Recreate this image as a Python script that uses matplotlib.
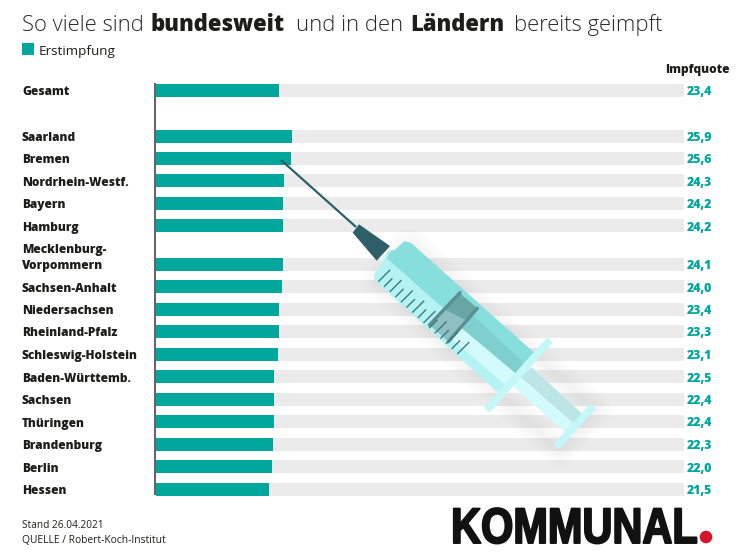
import numpy as np
import matplotlib
matplotlib.use('Agg')
import matplotlib.pyplot as plt
import matplotlib.patheffects as pe
from matplotlib.patches import Polygon, Rectangle, Circle
from matplotlib.transforms import Affine2D

# Impfquote Erstimpfung, 26.04.2021
laender = ['Gesamt', 'Saarland', 'Bremen', 'Nordrhein-Westf.', 'Bayern', 'Hamburg',
           'Mecklenburg-\nVorpommern', 'Sachsen-Anhalt', 'Niedersachsen', 'Rheinland-Pfalz',
           'Schleswig-Holstein', 'Baden-Württemb.', 'Sachsen', 'Thüringen', 'Brandenburg',
           'Berlin', 'Hessen']
quote = [23.4, 25.9, 25.6, 24.3, 24.2, 24.2, 24.1, 24.0, 23.4, 23.3, 23.1, 22.5, 22.4, 22.4, 22.3, 22.0, 21.5]

TEAL = '#00a79d'
GRAU = '#ebebeb'
W, H = 738, 558

# row layout in pixels (gap before Saarland and before Mecklenburg-Vorpommern)
schritte = [0, 46] + [22.45] * 4 + [38.2] + [22.5] * 10
y = 90 + np.cumsum(schritte)


class Schmal(pe.AbstractPathEffect):
    # squeeze text horizontally around a pixel column, for the logo
    def __init__(self, faktor, anker, breite):
        super().__init__()
        self.faktor, self.anker, self.breite = faktor, anker, breite

    def draw_path(self, renderer, gc, tpath, affine, rgbFace):
        t = affine + Affine2D().translate(-self.anker, 0).scale(self.faktor, 1).translate(self.anker, 0)
        gc0 = renderer.new_gc()
        gc0.copy_properties(gc)
        gc0.set_linewidth(self.breite)
        gc0.set_foreground(rgbFace)
        renderer.draw_path(gc0, tpath, t, rgbFace)
        gc0.restore()


fig = plt.figure(figsize=(W / 100, H / 100), dpi=100)
plt.rcParams['font.family'] = ['Open Sans', 'DejaVu Sans']

ax = fig.add_axes([155.5 / W, 0, (684 - 155.5) / W, 1])
ax.set_xlim(0, 100)
ax.set_ylim(H, 0)
ax.axis('off')
ax.barh(y, [100] * len(y), height=13, color=GRAU, zorder=1)
ax.barh(y, quote, height=13, color=TEAL, zorder=2)

# overlay in pixel coordinates for text and the syringe
ov = fig.add_axes([0, 0, 1, 1], facecolor='none')
ov.set_xlim(0, W)
ov.set_ylim(H, 0)
ov.axis('off')

ov.plot([155, 155], [83, 495], color='#666666', lw=1.5, solid_capstyle='butt', zorder=3)

for name, wert, yy in zip(laender, quote, y):
    ov.text(22, yy + 5, name, fontsize=8.6, fontweight='extra bold', color='#1d1d1b', va='baseline', linespacing=1.5)
    ov.text(687, yy + 5, f'{wert:.1f}'.replace('.', ','), fontsize=8.8, fontweight='extra bold', color=TEAL, va='baseline')

ov.text(665, 73, 'Impfquote', fontsize=8.6, fontweight='extra bold', color='#1d1d1b', va='baseline')

# title, mixed weights
titel = [(22, 'So viele sind', 'light'), (151, 'bundesweit', 'extra bold'), (296, 'und in den', 'light'),
         (410, 'Ländern', 'extra bold'), (514, 'bereits geimpft', 'light')]
for tx, t, gew in titel:
    ov.text(tx, 31, t, fontsize=15.8, fontweight=gew, color='#2a2a2a' if gew == 'light' else '#1d1d1b', va='baseline')

ov.add_patch(Rectangle((22, 43), 12, 12, color=TEAL, lw=0))
ov.text(39, 55, 'Erstimpfung', fontsize=9.7, color='#1d1d1b', va='baseline')

ov.text(22, 528, 'Stand 26.04.2021', fontsize=7.3, color='#1d1d1b', va='baseline')
ov.text(22, 543, 'QUELLE / Robert-Koch-Institut', fontsize=7.4, color='#1d1d1b', va='baseline')

# logo
ov.text(698, 543, 'KOMMUNAL', fontsize=36, family='Liberation Sans', fontweight='bold', color='#111111',
        ha='right', va='baseline', path_effects=[Schmal(0.83, 698, 1.4)])
ov.add_patch(Circle((706, 537), 6.3, color='#d5152b', lw=0))


# syringe (x3 crop at 340,210)
def z(pts):
    return np.array(pts) / 3 + [340, 210]


def poly(pts, farbe, zo=5, rand=0.0):
    ov.add_patch(Polygon(z(pts), closed=True, facecolor=farbe, edgecolor=farbe if rand else 'none', lw=rand,
                         joinstyle='round', zorder=zo))


umriss = [(102, 200), (190, 97), (212, 98), (580, 428), (760, 590), (648, 710), (475, 546)]
for b in np.linspace(24, 2, 12):
    ov.add_patch(Polygon(z(umriss) + [3, 4], closed=True, facecolor='none', edgecolor='black',
                         lw=b, alpha=0.005, joinstyle='round', zorder=4))

# needle and hub
ov.plot([281, 356], [160, 227], color='#2c5f68', lw=1.6, zorder=5, solid_capstyle='butt')
poly([(118, 148), (140, 130), (150, 145), (135, 163)], '#d3fbfd')
poly([(140, 130), (158, 118), (172, 132), (150, 145)], '#9fe4e3')
poly([(38, 68), (57, 43), (150, 108), (110, 152)], '#2c5f68', zo=6)

# barrel
poly([(138, 147), (194, 97), (212, 102), (580, 430), (555, 462), (369, 351)], '#87dfdd', rand=1.5)
poly([(104, 197), (138, 147), (369, 351), (530, 490), (477, 546), (106, 208)], '#b5f2f3', rand=1.5)
poly([(369, 351), (527, 490), (495, 525), (335, 385)], '#d3fbfd')
poly([(395, 312), (555, 462), (527, 490), (362, 352)], '#7fcfcf')

# plunger
poly([(540, 500), (575, 472), (725, 610), (700, 640)], '#bce6e6')
poly([(515, 525), (540, 500), (700, 640), (675, 665)], '#d3fbfd')
poly([(752, 584), (765, 597), (656, 716), (643, 703)], '#c4f7f8', rand=1.0)

# flange
poly([(622, 385), (635, 398), (448, 605), (435, 592)], '#c4f7f8', zo=6, rand=1.0)

# gasket
poly([(360, 250), (412, 295), (375, 330), (315, 300)], '#6aa5a5', zo=6)
poly([(315, 300), (375, 330), (325, 395), (268, 345)], '#8fbfc2', zo=6)
ov.plot(*z([(360, 248), (268, 345)]).T, color='#5a8f92', lw=2.4, zorder=7, solid_capstyle='round')
ov.plot(*z([(412, 295), (325, 395)]).T, color='#5a8f92', lw=2.4, zorder=7, solid_capstyle='round')

# scale marks on the barrel
start = z([(115, 215)])[0]
ende = z([(352, 432)])[0]
for i, f in enumerate(np.linspace(0, 1, 15)):
    p = start + (ende - start) * f
    lang = 17 if i % 2 == 0 else 12
    ov.plot([p[0], p[0] + lang * 0.70], [p[1], p[1] - lang * 0.70], color='#3b7a80', lw=1.0, zorder=7,
            solid_capstyle='butt')

fig.savefig('out.png', dpi=100)
